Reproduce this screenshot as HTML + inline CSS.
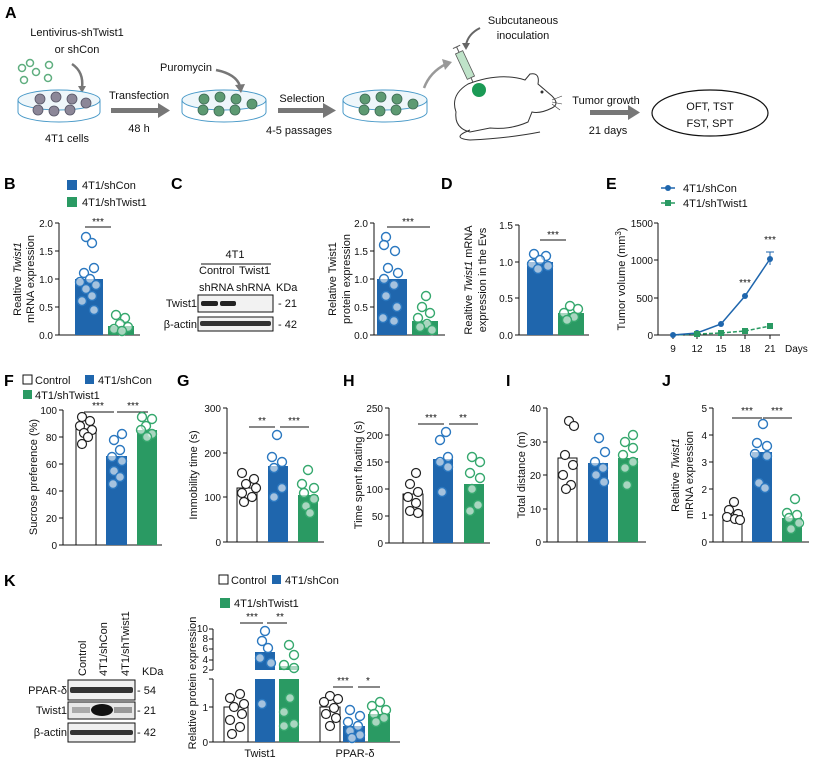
<!DOCTYPE html>
<html><head><meta charset="utf-8"><style>
body{margin:0;background:#fff}
svg{display:block;font-family:"Liberation Sans",sans-serif}
.t{font-size:10px;fill:#111}
.l{font-size:11px;fill:#111}
.p{font-size:16px;font-weight:bold;fill:#000}
.ax{stroke:#111;stroke-width:1;fill:none}
.b{fill:#1f66ad}.g{fill:#2a9a63}.w{fill:#fff;stroke:#111;stroke-width:1}
.db circle{fill:#fff;fill-opacity:.6;stroke:#2b78c0;stroke-width:1.4}
.dg circle{fill:#fff;fill-opacity:.6;stroke:#36a86e;stroke-width:1.4}
.dw circle{fill:#fff;stroke:#222;stroke-width:1.2}
.s{font-size:10px;fill:#111;text-anchor:middle}
.sl{stroke:#111;stroke-width:1}
</style></head><body>
<svg width="816" height="766" viewBox="0 0 816 766" xmlns="http://www.w3.org/2000/svg">
<!-- Panel A -->
<text class="p" x="5" y="18">A</text>
<text class="l" x="77" y="36" text-anchor="middle">Lentivirus-shTwist1</text>
<text class="l" x="77" y="53" text-anchor="middle">or shCon</text>
<g fill="none" stroke="#5fae7f" stroke-width="1.5">
<circle cx="24" cy="80" r="3.5"/><circle cx="36" cy="72" r="3.5"/><circle cx="49" cy="65" r="3.5"/><circle cx="30" cy="63" r="3.5"/><circle cx="48" cy="78" r="3.5"/><circle cx="22" cy="68" r="3.5"/></g>
<path d="M72 64 Q84 72 82 88" stroke="#777" stroke-width="2.5" fill="none"/><path d="M78 86 L82 93 L86 86Z" fill="#777"/>
<ellipse cx="59" cy="100" rx="41" ry="10" fill="#eef6fa" stroke="#4a9ac8"/>
<path d="M18 100 V112 A41 10 0 0 0 100 112 V100" fill="none" stroke="#4a9ac8"/>
<g fill="#8c8798" stroke="#556" stroke-width=".8"><circle cx="40" cy="99" r="5"/><circle cx="56" cy="97" r="5"/><circle cx="72" cy="99" r="5"/><circle cx="86" cy="103" r="5"/><circle cx="38" cy="110" r="5"/><circle cx="54" cy="111" r="5"/><circle cx="70" cy="110" r="5"/></g>
<text class="l" x="67" y="142" text-anchor="middle">4T1 cells</text>
<text class="l" x="139" y="99" text-anchor="middle">Transfection</text>
<rect x="111" y="108" width="50" height="5" fill="#777"/><path d="M158 103 L170 110.5 L158 118Z" fill="#777"/>
<text class="l" x="139" y="132" text-anchor="middle">48 h</text>
<ellipse cx="224" cy="100" rx="42" ry="10" fill="#eef6fa" stroke="#4a9ac8"/>
<path d="M182 100 V112 A42 10 0 0 0 266 112 V100" fill="none" stroke="#4a9ac8"/>
<g fill="#5d9a72" stroke="#3d6a55" stroke-width=".8"><circle cx="204" cy="99" r="5"/><circle cx="220" cy="97" r="5"/><circle cx="236" cy="99" r="5"/><circle cx="252" cy="104" r="5"/><circle cx="203" cy="110" r="5"/><circle cx="219" cy="111" r="5"/><circle cx="235" cy="110" r="5"/></g>
<text class="l" x="186" y="71" text-anchor="middle">Puromycin</text>
<path d="M216 70 Q236 74 240 86" stroke="#777" stroke-width="2.5" fill="none"/><path d="M235 85 L241 93 L245 84Z" fill="#777"/>
<text class="l" x="302" y="102" text-anchor="middle">Selection</text>
<rect x="278" y="108" width="47" height="5" fill="#777"/><path d="M323 103 L336 110.5 L323 118Z" fill="#777"/>
<text class="l" x="299" y="134" text-anchor="middle">4-5 passages</text>
<ellipse cx="385" cy="100" rx="42" ry="10" fill="#eef6fa" stroke="#4a9ac8"/>
<path d="M343 100 V112 A42 10 0 0 0 427 112 V100" fill="none" stroke="#4a9ac8"/>
<g fill="#5d9a72" stroke="#3d6a55" stroke-width=".8"><circle cx="365" cy="99" r="5"/><circle cx="381" cy="97" r="5"/><circle cx="397" cy="99" r="5"/><circle cx="413" cy="104" r="5"/><circle cx="364" cy="110" r="5"/><circle cx="380" cy="111" r="5"/><circle cx="396" cy="110" r="5"/></g>
<path d="M424 88 Q430 72 446 64" stroke="#999" stroke-width="2.5" fill="none"/><path d="M442 59 L452 62 L445 70Z" fill="#999"/>
<text class="l" x="523" y="24" text-anchor="middle">Subcutaneous</text>
<text class="l" x="523" y="39" text-anchor="middle">inoculation</text>
<path d="M480 28 Q468 34 466 45" stroke="#666" stroke-width="2" fill="none"/><path d="M462 43 L466 50 L470 43Z" fill="#666"/>
<g transform="translate(465,65) rotate(-25)"><rect x="-4" y="-14" width="8" height="28" fill="#bfe3c9" stroke="#555" stroke-width=".8"/><line x1="0" y1="-14" x2="0" y2="-20" stroke="#555"/><line x1="-4" y1="-20" x2="4" y2="-20" stroke="#555"/><line x1="0" y1="14" x2="0" y2="22" stroke="#555"/></g>
<path d="M456 112 Q450 95 468 84 Q500 72 525 80 L530 74 Q540 72 538 84 L552 96 Q560 104 552 108 Q540 114 532 112 L528 122 Q510 130 490 128 L470 132 Q454 128 456 112Z" fill="#fff" stroke="#333" stroke-width="1"/>
<path d="M470 130 Q450 138 470 140 Q510 138 540 132" fill="none" stroke="#333"/>
<circle cx="479" cy="90" r="7" fill="#1b9a55"/>
<circle cx="542" cy="92" r="1.5" fill="#333"/>
<path d="M552 100 L562 96 M552 102 L562 104 M552 104 L560 110" stroke="#333" stroke-width=".6"/>
<text class="l" x="606" y="104" text-anchor="middle">Tumor growth</text>
<rect x="590" y="110" width="40" height="5" fill="#777"/><path d="M628 105 L640 112.5 L628 120Z" fill="#777"/>
<text class="l" x="608" y="134" text-anchor="middle">21 days</text>
<ellipse cx="710" cy="113" rx="58" ry="23" fill="#fff" stroke="#111" stroke-width="1.2"/>
<text class="l" x="710" y="110" text-anchor="middle">OFT, TST</text>
<text class="l" x="710" y="127" text-anchor="middle">FST, SPT</text>

<!-- Panel B -->
<text class="p" x="4" y="189">B</text>
<rect x="67" y="180" width="10" height="10" class="b"/><text class="l" x="82" y="189">4T1/shCon</text>
<rect x="67" y="197" width="10" height="10" class="g"/><text class="l" x="82" y="206">4T1/shTwist1</text>
<path class="ax" d="M59 223 V335 H140 M55 223 H59 M55 251 H59 M55 279 H59 M55 307 H59 M55 335 H59"/>
<g class="t" text-anchor="end"><text x="53" y="227">2.0</text><text x="53" y="255">1.5</text><text x="53" y="283">1.0</text><text x="53" y="311">0.5</text><text x="53" y="339">0.0</text></g>
<text class="l" transform="translate(21,279) rotate(-90)" text-anchor="middle">Realtive <tspan font-style="italic">Twist1</tspan></text>
<text class="l" transform="translate(34,279) rotate(-90)" text-anchor="middle">mRNA expression</text>
<rect x="75" y="279" width="28" height="56" class="b"/><rect x="108" y="326" width="26" height="9" class="g"/>
<line class="sl" x1="85" y1="227" x2="111" y2="227"/><text class="s" x="98" y="225">***</text>
<g class="db"><circle cx="86" cy="237" r="4.5"/><circle cx="92" cy="243" r="4.5"/><circle cx="94" cy="268" r="4.5"/><circle cx="84" cy="273" r="4.5"/><circle cx="90" cy="279" r="4.5"/><circle cx="80" cy="282" r="4.5"/><circle cx="96" cy="285" r="4.5"/><circle cx="86" cy="289" r="4.5"/><circle cx="92" cy="296" r="4.5"/><circle cx="82" cy="301" r="4.5"/><circle cx="94" cy="310" r="4.5"/></g>
<g class="dg"><circle cx="116" cy="315" r="4.5"/><circle cx="125" cy="318" r="4.5"/><circle cx="120" cy="324" r="4.5"/><circle cx="128" cy="327" r="4.5"/><circle cx="114" cy="329" r="4.5"/><circle cx="122" cy="331" r="4.5"/></g>

<!-- Panel C -->
<text class="p" x="171" y="189">C</text>
<text class="l" x="235" y="258" text-anchor="middle">4T1</text><line class="sl" x1="201" y1="264" x2="271" y2="264"/>
<text class="l" x="199" y="274">Control</text><text class="l" x="239" y="274">Twist1</text>
<text class="l" x="199" y="291">shRNA</text><text class="l" x="236" y="291">shRNA</text><text class="l" x="276" y="291">KDa</text>
<rect x="198" y="295" width="75" height="17" fill="#f2f2f2" stroke="#111"/>
<rect x="201" y="301" width="17" height="5" rx="2" fill="#222"/><rect x="220" y="301" width="16" height="5" rx="2" fill="#222"/>
<rect x="198" y="317" width="75" height="14" fill="#f2f2f2" stroke="#111"/>
<rect x="200" y="321" width="71" height="5" rx="2" fill="#333"/>
<text class="l" x="197" y="307" text-anchor="end">Twist1</text><text class="l" x="197" y="328" text-anchor="end">β-actin</text>
<text class="l" x="278" y="307">- 21</text><text class="l" x="278" y="328">- 42</text>
<path class="ax" d="M374 223 V335 H445 M370 223 H374 M370 251 H374 M370 279 H374 M370 307 H374 M370 335 H374"/>
<g class="t" text-anchor="end"><text x="368" y="227">2.0</text><text x="368" y="255">1.5</text><text x="368" y="283">1.0</text><text x="368" y="311">0.5</text><text x="368" y="339">0.0</text></g>
<text class="l" transform="translate(336,279) rotate(-90)" text-anchor="middle">Relative Twist1</text>
<text class="l" transform="translate(350,279) rotate(-90)" text-anchor="middle">protein expression</text>
<rect x="377" y="279" width="30" height="56" class="b"/><rect x="412" y="321" width="26" height="14" class="g"/>
<line class="sl" x1="387" y1="227" x2="430" y2="227"/><text class="s" x="408" y="225">***</text>
<g class="db"><circle cx="386" cy="237" r="4.5"/><circle cx="384" cy="245" r="4.5"/><circle cx="395" cy="251" r="4.5"/><circle cx="388" cy="268" r="4.5"/><circle cx="398" cy="273" r="4.5"/><circle cx="384" cy="279" r="4.5"/><circle cx="394" cy="285" r="4.5"/><circle cx="386" cy="296" r="4.5"/><circle cx="397" cy="307" r="4.5"/><circle cx="383" cy="318" r="4.5"/><circle cx="394" cy="321" r="4.5"/></g>
<g class="dg"><circle cx="426" cy="296" r="4.5"/><circle cx="422" cy="307" r="4.5"/><circle cx="430" cy="313" r="4.5"/><circle cx="418" cy="318" r="4.5"/><circle cx="427" cy="324" r="4.5"/><circle cx="420" cy="327" r="4.5"/><circle cx="432" cy="330" r="4.5"/></g>

<!-- Panel D -->
<g transform="translate(4,0)">
<text class="p" x="437" y="189">D</text>
<path class="ax" d="M515 225 V335 H585 M511 225 H515 M511 262 H515 M511 298 H515 M511 335 H515"/>
<g class="t" text-anchor="end"><text x="509" y="229">1.5</text><text x="509" y="266">1.0</text><text x="509" y="302">0.5</text><text x="509" y="339">0.0</text></g>
<text class="l" transform="translate(468,280) rotate(-90)" text-anchor="middle">Realtive <tspan font-style="italic">Twist1</tspan> mRNA</text>
<text class="l" transform="translate(482,280) rotate(-90)" text-anchor="middle">expression in the Evs</text>
<rect x="523" y="262" width="26" height="73" class="b"/><rect x="554" y="313" width="26" height="22" class="g"/>
<line class="sl" x1="536" y1="240" x2="562" y2="240"/><text class="s" x="549" y="238">***</text>
<g class="db"><circle cx="530" cy="254" r="4.5"/><circle cx="542" cy="256" r="4.5"/><circle cx="536" cy="260" r="4.5"/><circle cx="528" cy="264" r="4.5"/><circle cx="544" cy="266" r="4.5"/><circle cx="534" cy="269" r="4.5"/></g>
<g class="dg"><circle cx="566" cy="306" r="4.5"/><circle cx="574" cy="309" r="4.5"/><circle cx="560" cy="313" r="4.5"/><circle cx="570" cy="317" r="4.5"/><circle cx="563" cy="320" r="4.5"/></g>
</g>

<!-- Panel E -->
<text class="p" x="606" y="189">E</text>
<line x1="661" y1="188" x2="675" y2="188" stroke="#1f66ad" stroke-width="1.5"/><circle cx="668" cy="188" r="3" fill="#1f66ad"/><text class="l" x="683" y="192">4T1/shCon</text>
<line x1="661" y1="203" x2="675" y2="203" stroke="#2a9a63" stroke-width="1.5"/><rect x="665" y="200" width="6" height="6" fill="#2a9a63"/><text class="l" x="683" y="207">4T1/shTwist1</text>
<path class="ax" d="M658 223 V335 H780 M654 223 H658 M654 260 H658 M654 298 H658 M654 335 H658 M673 335 V339 M697 335 V339 M721 335 V339 M745 335 V339 M770 335 V339"/>
<g class="t" text-anchor="end"><text x="653" y="227">1500</text><text x="653" y="264">1000</text><text x="653" y="302">500</text><text x="653" y="339">0</text></g>
<g class="t" text-anchor="middle"><text x="673" y="352">9</text><text x="697" y="352">12</text><text x="721" y="352">15</text><text x="745" y="352">18</text><text x="770" y="352">21</text></g>
<text class="t" x="785" y="352">Days</text>
<text class="l" transform="translate(625,279) rotate(-90)" text-anchor="middle">Tumor volume (mm<tspan dy="-4" font-size="8">3</tspan><tspan dy="4">)</tspan></text>
<polyline points="673,335 697,334 721,333 745,331 770,326" fill="none" stroke="#2a9a63" stroke-width="1.5" stroke-dasharray="4,2"/>
<polyline points="673,335 697,333 721,324 745,296 770,259" fill="none" stroke="#1f66ad" stroke-width="1.5"/>
<line x1="770" y1="252" x2="770" y2="265" stroke="#1f66ad"/><line x1="766" y1="252" x2="774" y2="252" stroke="#1f66ad"/>
<g fill="#1f66ad"><circle cx="673" cy="335" r="3"/><circle cx="697" cy="333" r="3"/><circle cx="721" cy="324" r="3"/><circle cx="745" cy="296" r="3"/><circle cx="770" cy="259" r="3"/></g>
<g fill="#2a9a63"><rect x="694" y="331" width="6" height="6"/><rect x="718" y="330" width="6" height="6"/><rect x="742" y="328" width="6" height="6"/><rect x="767" y="323" width="6" height="6"/></g>
<text class="s" x="745" y="286">***</text><text class="s" x="770" y="243">***</text>

<!-- Panel F -->
<text class="p" x="4" y="386">F</text>
<rect x="23" y="375" width="9" height="9" fill="#fff" stroke="#111"/><text class="l" x="35" y="384">Control</text>
<rect x="85" y="375" width="9" height="9" class="b"/><text class="l" x="98" y="384">4T1/shCon</text>
<rect x="23" y="390" width="9" height="9" class="g"/><text class="l" x="35" y="399">4T1/shTwist1</text>
<path class="ax" d="M63 410 V545 H162 M59 410 H63 M59 437 H63 M59 464 H63 M59 491 H63 M59 518 H63 M59 545 H63"/>
<g class="t" text-anchor="end"><text x="57" y="414">100</text><text x="57" y="441">80</text><text x="57" y="468">60</text><text x="57" y="495">40</text><text x="57" y="522">20</text><text x="57" y="549">0</text></g>
<text class="l" transform="translate(37,477) rotate(-90)" text-anchor="middle">Sucrose preference (%)</text>
<rect x="76" y="429" width="20" height="116" class="w"/><rect x="106" y="456" width="21" height="89" class="b"/><rect x="137" y="430" width="20" height="115" class="g"/>
<line class="sl" x1="84" y1="412" x2="114" y2="412"/><line class="sl" x1="117" y1="412" x2="148" y2="412"/>
<text class="s" x="98" y="409">***</text><text class="s" x="133" y="409">***</text>
<g class="dw"><circle cx="82" cy="417" r="4.5"/><circle cx="90" cy="421" r="4.5"/><circle cx="80" cy="426" r="4.5"/><circle cx="92" cy="430" r="4.5"/><circle cx="84" cy="433" r="4.5"/><circle cx="88" cy="437" r="4.5"/><circle cx="82" cy="444" r="4.5"/></g>
<g class="db"><circle cx="122" cy="434" r="4.5"/><circle cx="114" cy="440" r="4.5"/><circle cx="120" cy="450" r="4.5"/><circle cx="112" cy="457" r="4.5"/><circle cx="122" cy="461" r="4.5"/><circle cx="114" cy="471" r="4.5"/><circle cx="120" cy="477" r="4.5"/><circle cx="113" cy="484" r="4.5"/></g>
<g class="dg"><circle cx="142" cy="417" r="4.5"/><circle cx="152" cy="419" r="4.5"/><circle cx="146" cy="426" r="4.5"/><circle cx="141" cy="430" r="4.5"/><circle cx="152" cy="434" r="4.5"/><circle cx="147" cy="437" r="4.5"/></g>

<!-- Panel G -->
<g transform="translate(2,0)">
<text class="p" x="175" y="386">G</text>
<path class="ax" d="M225 408 V542 H322 M221 408 H225 M221 453 H225 M221 497 H225 M221 542 H225"/>
<g class="t" text-anchor="end"><text x="219" y="412">300</text><text x="219" y="457">200</text><text x="219" y="501">100</text><text x="219" y="546">0</text></g>
<text class="l" transform="translate(195,475) rotate(-90)" text-anchor="middle">Immobility time (s)</text>
<rect x="235" y="488" width="20" height="54" class="w"/><rect x="266" y="466" width="20" height="76" class="b"/><rect x="296" y="495" width="20" height="47" class="g"/>
<line class="sl" x1="247" y1="427" x2="273" y2="427"/><line class="sl" x1="278" y1="427" x2="307" y2="427"/>
<text class="s" x="260" y="424">**</text><text class="s" x="292" y="424">***</text>
<g class="dw"><circle cx="240" cy="473" r="4.5"/><circle cx="252" cy="479" r="4.5"/><circle cx="244" cy="484" r="4.5"/><circle cx="254" cy="488" r="4.5"/><circle cx="240" cy="493" r="4.5"/><circle cx="250" cy="497" r="4.5"/><circle cx="242" cy="502" r="4.5"/></g>
<g class="db"><circle cx="275" cy="435" r="4.5"/><circle cx="270" cy="457" r="4.5"/><circle cx="280" cy="462" r="4.5"/><circle cx="272" cy="468" r="4.5"/><circle cx="280" cy="488" r="4.5"/><circle cx="272" cy="497" r="4.5"/></g>
<g class="dg"><circle cx="306" cy="470" r="4.5"/><circle cx="300" cy="484" r="4.5"/><circle cx="312" cy="488" r="4.5"/><circle cx="302" cy="493" r="4.5"/><circle cx="312" cy="499" r="4.5"/><circle cx="304" cy="506" r="4.5"/><circle cx="308" cy="513" r="4.5"/></g>
</g>

<!-- Panel H -->
<g transform="translate(6,0)">
<text class="p" x="337" y="386">H</text>
<path class="ax" d="M383 408 V543 H484 M379 408 H383 M379 435 H383 M379 462 H383 M379 489 H383 M379 516 H383 M379 543 H383"/>
<g class="t" text-anchor="end"><text x="377" y="412">250</text><text x="377" y="439">200</text><text x="377" y="466">150</text><text x="377" y="493">100</text><text x="377" y="520">50</text><text x="377" y="547">0</text></g>
<text class="l" transform="translate(356,475) rotate(-90)" text-anchor="middle">Time spent floating (s)</text>
<rect x="397" y="494" width="20" height="49" class="w"/><rect x="427" y="459" width="20" height="84" class="b"/><rect x="458" y="484" width="20" height="59" class="g"/>
<line class="sl" x1="412" y1="424" x2="438" y2="424"/><line class="sl" x1="443" y1="424" x2="472" y2="424"/>
<text class="s" x="425" y="421">***</text><text class="s" x="457" y="421">**</text>
<g class="dw"><circle cx="410" cy="473" r="4.5"/><circle cx="404" cy="484" r="4.5"/><circle cx="412" cy="492" r="4.5"/><circle cx="402" cy="497" r="4.5"/><circle cx="410" cy="503" r="4.5"/><circle cx="404" cy="511" r="4.5"/><circle cx="412" cy="513" r="4.5"/></g>
<g class="db"><circle cx="440" cy="432" r="4.5"/><circle cx="434" cy="440" r="4.5"/><circle cx="442" cy="457" r="4.5"/><circle cx="434" cy="462" r="4.5"/><circle cx="442" cy="467" r="4.5"/><circle cx="436" cy="492" r="4.5"/></g>
<g class="dg"><circle cx="466" cy="457" r="4.5"/><circle cx="474" cy="462" r="4.5"/><circle cx="464" cy="473" r="4.5"/><circle cx="474" cy="478" r="4.5"/><circle cx="466" cy="489" r="4.5"/><circle cx="472" cy="505" r="4.5"/><circle cx="464" cy="511" r="4.5"/></g>
</g>

<!-- Panel I -->
<g transform="translate(9,0)">
<text class="p" x="497" y="386">I</text>
<path class="ax" d="M538 408 V542 H637 M534 408 H538 M534 442 H538 M534 475 H538 M534 509 H538 M534 542 H538"/>
<g class="t" text-anchor="end"><text x="532" y="412">40</text><text x="532" y="446">30</text><text x="532" y="479">20</text><text x="532" y="513">10</text><text x="532" y="546">0</text></g>
<text class="l" transform="translate(516,475) rotate(-90)" text-anchor="middle">Total distance (m)</text>
<rect x="549" y="458" width="19" height="84" class="w"/><rect x="579" y="463" width="20" height="79" class="b"/><rect x="609" y="458" width="20" height="84" class="g"/>
<g class="dw"><circle cx="560" cy="421" r="4.5"/><circle cx="565" cy="426" r="4.5"/><circle cx="556" cy="455" r="4.5"/><circle cx="564" cy="465" r="4.5"/><circle cx="554" cy="475" r="4.5"/><circle cx="562" cy="485" r="4.5"/><circle cx="557" cy="489" r="4.5"/></g>
<g class="db"><circle cx="590" cy="438" r="4.5"/><circle cx="596" cy="452" r="4.5"/><circle cx="586" cy="462" r="4.5"/><circle cx="594" cy="468" r="4.5"/><circle cx="587" cy="475" r="4.5"/><circle cx="595" cy="482" r="4.5"/></g>
<g class="dg"><circle cx="624" cy="435" r="4.5"/><circle cx="616" cy="442" r="4.5"/><circle cx="624" cy="448" r="4.5"/><circle cx="614" cy="455" r="4.5"/><circle cx="624" cy="462" r="4.5"/><circle cx="616" cy="468" r="4.5"/><circle cx="618" cy="485" r="4.5"/></g>
</g>

<!-- Panel J -->
<g transform="translate(7,0)">
<text class="p" x="655" y="386">J</text>
<path class="ax" d="M706 408 V542 H802 M702 408 H706 M702 435 H706 M702 462 H706 M702 489 H706 M702 515 H706 M702 542 H706"/>
<g class="t" text-anchor="end"><text x="700" y="412">5</text><text x="700" y="439">4</text><text x="700" y="466">3</text><text x="700" y="493">2</text><text x="700" y="519">1</text><text x="700" y="546">0</text></g>
<text class="l" transform="translate(672,475) rotate(-90)" text-anchor="middle">Realtive <tspan font-style="italic">Twist1</tspan></text>
<text class="l" transform="translate(686,475) rotate(-90)" text-anchor="middle">mRNA expression</text>
<rect x="716" y="515" width="19" height="27" class="w"/><rect x="745" y="452" width="20" height="90" class="b"/><rect x="775" y="518" width="20" height="24" class="g"/>
<line class="sl" x1="725" y1="418" x2="755" y2="418"/><line class="sl" x1="756" y1="418" x2="785" y2="418"/>
<text class="s" x="740" y="414">***</text><text class="s" x="770" y="414">***</text>
<g class="dw"><circle cx="727" cy="502" r="4.5"/><circle cx="722" cy="510" r="4.5"/><circle cx="731" cy="514" r="4.5"/><circle cx="720" cy="517" r="4.5"/><circle cx="728" cy="519" r="4.5"/><circle cx="733" cy="520" r="4.5"/></g>
<g class="db"><circle cx="756" cy="424" r="4.5"/><circle cx="750" cy="443" r="4.5"/><circle cx="760" cy="446" r="4.5"/><circle cx="748" cy="454" r="4.5"/><circle cx="760" cy="456" r="4.5"/><circle cx="752" cy="483" r="4.5"/><circle cx="758" cy="488" r="4.5"/></g>
<g class="dg"><circle cx="788" cy="499" r="4.5"/><circle cx="780" cy="513" r="4.5"/><circle cx="790" cy="515" r="4.5"/><circle cx="782" cy="518" r="4.5"/><circle cx="792" cy="523" r="4.5"/><circle cx="784" cy="529" r="4.5"/></g>
</g>

<!-- Panel K -->
<text class="p" x="4" y="586">K</text>
<rect x="219" y="575" width="9" height="9" fill="#fff" stroke="#111"/><text class="l" x="231" y="584">Control</text>
<rect x="272" y="575" width="9" height="9" class="b"/><text class="l" x="285" y="584">4T1/shCon</text>
<rect x="220" y="598" width="10" height="10" class="g"/><text class="l" x="234" y="607">4T1/shTwist1</text>
<g class="l"><text transform="translate(86,676) rotate(-90)">Control</text><text transform="translate(107,676) rotate(-90)">4T1/shCon</text><text transform="translate(129,676) rotate(-90)">4T1/shTwist1</text></g>
<text class="l" x="142" y="675">KDa</text>
<rect x="68" y="680" width="67" height="20" fill="#f0f0f0" stroke="#111"/><rect x="70" y="687" width="63" height="6" rx="2" fill="#333"/>
<rect x="68" y="702" width="67" height="17" fill="#e8e8e8" stroke="#111"/><ellipse cx="102" cy="710" rx="11" ry="6" fill="#111"/><rect x="72" y="707" width="18" height="6" fill="#aaa"/><rect x="114" y="707" width="18" height="6" fill="#999"/>
<rect x="68" y="723" width="67" height="19" fill="#f0f0f0" stroke="#111"/><rect x="70" y="730" width="63" height="5" rx="2" fill="#333"/>
<g class="l" text-anchor="end"><text x="67" y="694">PPAR-δ</text><text x="67" y="714">Twist1</text><text x="67" y="736">β-actin</text></g>
<g class="l"><text x="137" y="694">- 54</text><text x="137" y="714">- 21</text><text x="137" y="736">- 42</text></g>
<text class="l" transform="translate(196,683) rotate(-90)" text-anchor="middle">Relative protein expression</text>
<path class="ax" d="M213 629 V670 M209 629 H213 M209 639 H213 M209 649 H213 M209 660 H213 M209 670 H213 M213 679 V742 H400 M209 679 H213 M209 707 H213 M209 742 H213"/>
<g class="t" text-anchor="end" font-size="9"><text x="208" y="632">10</text><text x="208" y="642">8</text><text x="208" y="652">6</text><text x="208" y="663">4</text><text x="208" y="673">2</text><text x="208" y="711">1</text><text x="208" y="746">0</text></g>
<rect x="224" y="707" width="24" height="35" class="w"/>
<rect x="255" y="652" width="20" height="18" class="b"/><rect x="255" y="679" width="20" height="63" class="b"/>
<rect x="279" y="666" width="20" height="4" class="g"/><rect x="279" y="679" width="20" height="63" class="g"/>
<rect x="320" y="707" width="20" height="35" class="w"/><rect x="343" y="726" width="22" height="16" class="b"/><rect x="368" y="714" width="22" height="28" class="g"/>
<line class="sl" x1="240" y1="623" x2="263" y2="623"/><line class="sl" x1="267" y1="623" x2="287" y2="623"/>
<text class="s" x="252" y="620">***</text><text class="s" x="280" y="620">**</text>
<line class="sl" x1="333" y1="687" x2="353" y2="687"/><line class="sl" x1="358" y1="687" x2="380" y2="687"/>
<text class="s" x="343" y="684">***</text><text class="s" x="368" y="684">*</text>
<g class="dw"><circle cx="240" cy="694" r="4.5"/><circle cx="230" cy="698" r="4.5"/><circle cx="244" cy="704" r="4.5"/><circle cx="234" cy="707" r="4.5"/><circle cx="242" cy="714" r="4.5"/><circle cx="230" cy="720" r="4.5"/><circle cx="240" cy="727" r="4.5"/><circle cx="232" cy="734" r="4.5"/>
<circle cx="330" cy="696" r="4.5"/><circle cx="338" cy="699" r="4.5"/><circle cx="324" cy="702" r="4.5"/><circle cx="334" cy="708" r="4.5"/><circle cx="326" cy="714" r="4.5"/><circle cx="336" cy="718" r="4.5"/><circle cx="330" cy="726" r="4.5"/></g>
<g class="db"><circle cx="265" cy="631" r="4.5"/><circle cx="262" cy="641" r="4.5"/><circle cx="268" cy="648" r="4.5"/><circle cx="260" cy="658" r="4.5"/><circle cx="271" cy="663" r="4.5"/><circle cx="262" cy="704" r="4.5"/>
<circle cx="350" cy="710" r="4.5"/><circle cx="360" cy="716" r="4.5"/><circle cx="348" cy="722" r="4.5"/><circle cx="358" cy="726" r="4.5"/><circle cx="350" cy="731" r="4.5"/><circle cx="360" cy="735" r="4.5"/><circle cx="352" cy="738" r="4.5"/></g>
<g class="dg"><circle cx="289" cy="645" r="4.5"/><circle cx="294" cy="655" r="4.5"/><circle cx="284" cy="665" r="4.5"/><circle cx="294" cy="668" r="4.5"/><circle cx="290" cy="698" r="4.5"/><circle cx="284" cy="712" r="4.5"/><circle cx="294" cy="724" r="4.5"/><circle cx="284" cy="726" r="4.5"/>
<circle cx="380" cy="702" r="4.5"/><circle cx="372" cy="706" r="4.5"/><circle cx="386" cy="710" r="4.5"/><circle cx="374" cy="714" r="4.5"/><circle cx="384" cy="718" r="4.5"/><circle cx="376" cy="722" r="4.5"/></g>
<text class="l" x="260" y="757" text-anchor="middle">Twist1</text><text class="l" x="355" y="757" text-anchor="middle">PPAR-δ</text>
</svg>
</body></html>
